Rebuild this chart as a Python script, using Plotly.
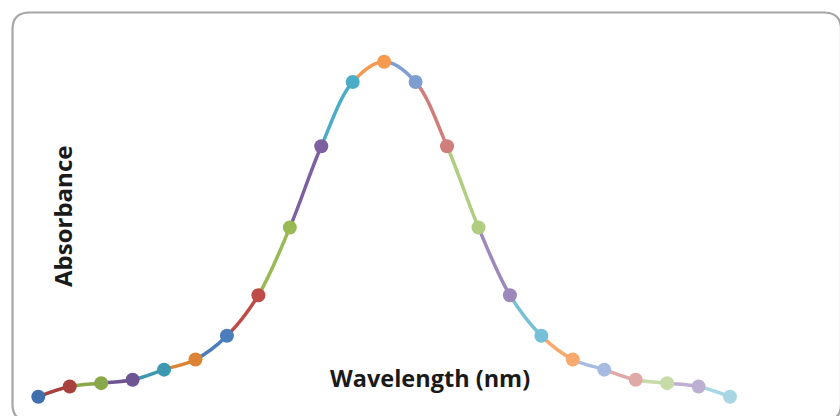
import plotly.graph_objects as go

# ---- data ----
wavelength = [380, 390, 400, 410, 420, 430, 440, 450, 460, 470, 480, 490,
              500, 510, 520, 530, 540, 550, 560, 570, 580, 590, 600]
absorbance = [0.01, 0.04, 0.05, 0.06, 0.09, 0.12, 0.19, 0.31, 0.51, 0.75, 0.94, 1.00,
              0.94, 0.75, 0.51, 0.31, 0.19, 0.12, 0.09, 0.06, 0.05, 0.04, 0.01]
point_colors = ["#3F70AD", "#A8413E", "#88A84A", "#6E5494", "#3C99B1", "#DC8434",
                "#4A7EBB", "#BE4B48", "#98B954", "#7D60A0", "#4BACC6", "#F59A4E",
                "#7E9DD0", "#D07E7C", "#B0CD80", "#9C88BA", "#75C0D6", "#F8AA6E",
                "#A7BADF", "#DFA9A8", "#C7DBA9", "#BCAFD1", "#A9D6E3"]
x_title = "Wavelength (nm)"
y_title = "Absorbance"

W, H = 840, 416
# main axis ranges (pixel mapping chosen to match layout)
px_first, px_last = 38.3, 730.0
ppu = (px_last - px_first) / (wavelength[-1] - wavelength[0])
x_range = [wavelength[0] - px_first / ppu, wavelength[0] + (W - px_first) / ppu]
py_top_val, py_bot_val = 61.7, 396.7
ppu_y = (py_bot_val - py_top_val) / (max(absorbance) - min(absorbance))
y_range = [min(absorbance) - (H - py_bot_val) / ppu_y, max(absorbance) + py_top_val / ppu_y]


def to_paper(x):
    return (x - x_range[0]) / (x_range[1] - x_range[0])


fig = go.Figure()
layout_axes = {}
n = len(wavelength)
# one smoothed line per segment, each clipped to its own x-span via its own x axis
for i in range(n - 1):
    ax_id = i + 2
    fig.add_trace(go.Scatter(
        x=wavelength, y=absorbance, mode="lines",
        line=dict(color=point_colors[i + 1], width=3.5, shape="spline", smoothing=1),
        xaxis=f"x{ax_id}", yaxis="y", hoverinfo="skip", showlegend=False))
    layout_axes[f"xaxis{ax_id}"] = dict(
        domain=[to_paper(wavelength[i]), to_paper(wavelength[i + 1])],
        range=[wavelength[i], wavelength[i + 1]], anchor="y", visible=False,
        showgrid=False, zeroline=False, fixedrange=True)

mk_id = n + 1
fig.add_trace(go.Scatter(
    x=wavelength, y=absorbance, mode="markers",
    marker=dict(color=point_colors, size=14, line=dict(width=0)),
    xaxis=f"x{mk_id}", yaxis="y", showlegend=False))
layout_axes[f"xaxis{mk_id}"] = dict(domain=[0, 1], range=x_range, anchor="y",
                                    visible=False, showgrid=False, zeroline=False)

# rounded border (paper coords)
def fx(p):
    return p / W


def fy(p):
    return 1 - p / H


L, T, R, B, r = 12.5, 12.5, 841.0, 421.0, 17
path = (f"M {fx(L + r)},{fy(T)} L {fx(R - r)},{fy(T)} Q {fx(R)},{fy(T)} {fx(R)},{fy(T + r)} "
        f"L {fx(R)},{fy(B - r)} Q {fx(R)},{fy(B)} {fx(R - r)},{fy(B)} "
        f"L {fx(L + r)},{fy(B)} Q {fx(L)},{fy(B)} {fx(L)},{fy(B - r)} "
        f"L {fx(L)},{fy(T + r)} Q {fx(L)},{fy(T)} {fx(L + r)},{fy(T)} Z")

fig.update_layout(
    width=W, height=H, margin=dict(l=0, r=0, t=0, b=0),
    paper_bgcolor="white", plot_bgcolor="rgba(0,0,0,0)", showlegend=False,
    xaxis=dict(domain=[0, 1], range=x_range, visible=False, showgrid=False, zeroline=False),
    yaxis=dict(domain=[0, 1], range=y_range, visible=False, showgrid=False, zeroline=False),
    shapes=[dict(type="path", xref="paper", yref="paper", path=path,
                 line=dict(color="#A6A6A6", width=2.2), fillcolor="rgba(0,0,0,0)", layer="above")],
    annotations=[
        dict(text=f"<b>{x_title}</b>", xref="paper", yref="paper",
             x=fx(430), y=fy(378), showarrow=False, xanchor="center", yanchor="middle",
             font=dict(family="Open Sans", size=23.5, color="#1a1a1a")),
        dict(text=f"<b>{y_title}</b>", xref="paper", yref="paper", textangle=-90,
             x=fx(62), y=fy(217), showarrow=False, xanchor="center", yanchor="middle",
             font=dict(family="Open Sans", size=24, color="#1a1a1a")),
    ],
    **layout_axes,
)

fig.write_html("out.html", config={"displayModeBar": False},
               post_script="document.body.style.margin='0';")
